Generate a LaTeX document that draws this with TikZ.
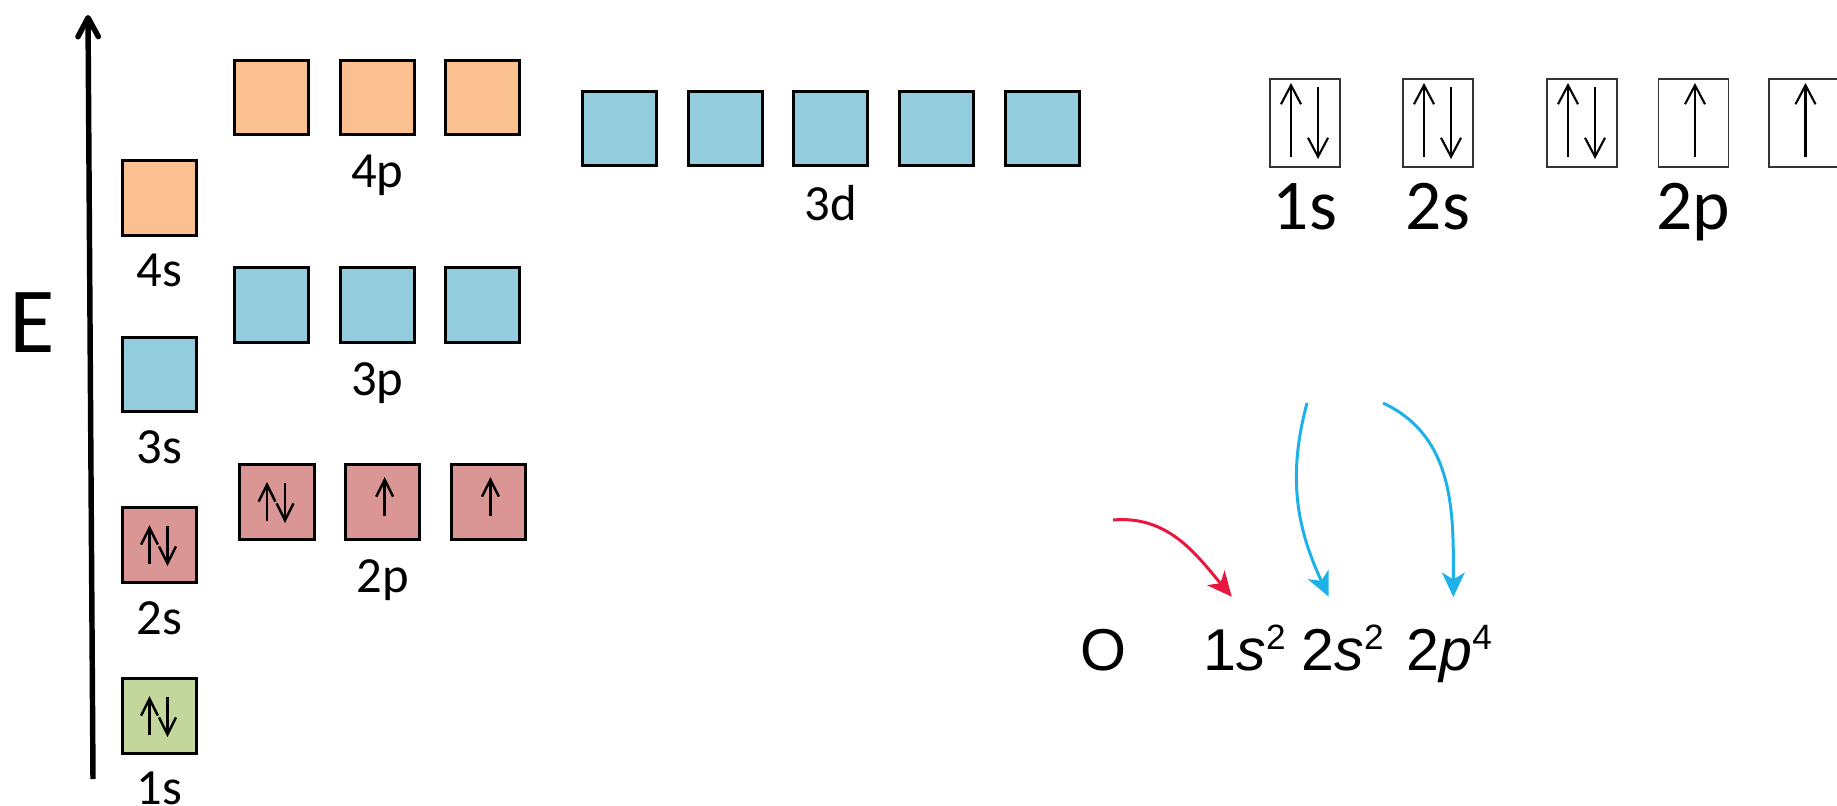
\documentclass[tikz,border=0pt]{standalone}
\usepackage{fontspec}
\setmainfont{Carlito}
\newfontfamily\arialfont{Liberation Sans}
\usepackage{xcolor}
\usetikzlibrary{positioning,calc,arrows.meta}

\definecolor{orbOrange}{HTML}{FAC090}
\definecolor{orbBlue}{HTML}{93CDDD}
\definecolor{orbRed}{HTML}{D99694}
\definecolor{orbGreen}{HTML}{C3D69B}
\definecolor{arrRed}{HTML}{E8173F}
\definecolor{arrBlue}{HTML}{1EB1E8}

% small raised count in the configuration
\newcommand{\cfgsup}[1]{\raisebox{5.7pt}{\fontsize{10}{10}\selectfont #1}}

\tikzset{
  orb/.style={draw, line width=0.85pt, minimum width=0.74cm, minimum height=0.74cm, inner sep=0pt},
  cellbox/.style={draw=black!80, line width=0.5pt, minimum width=0.70cm, minimum height=0.88cm, inner sep=0pt},
  lbl/.style={inner sep=0pt, font=\fontsize{14.4}{17}\selectfont},
  biglbl/.style={inner sep=0pt, font=\fontsize{20.3}{24}\selectfont},
  cfg/.style={inner sep=0pt, font=\arialfont\fontsize{16.8}{20}\selectfont},
  spin/.style={line width=0.7pt, -{Straight Barb[length=4.8pt,width=4.8pt]}},
  bigspin/.style={line width=0.6pt, -{Straight Barb[length=5.4pt,width=5.7pt]}},
  fillarrow/.style={line width=0.85pt, -{Stealth[length=7pt,width=6.5pt,inset=2pt]}}
}

\begin{document}
\begin{tikzpicture}[x=0.01cm, y=0.01cm]
\clip (0,0) rectangle (1837,805);

% energy axis
\draw[line width=1.55pt, -{Straight Barb[length=5.4pt,width=5.8pt,round]}] (93,26) -- (88,790);
\node[inner sep=0pt, font=\fontsize{26.5}{30}\selectfont] (E) at (32,482) {E};

% s orbitals
\foreach \n/\yy/\col in {1/89/orbGreen, 2/260/orbRed, 3/430.5/orbBlue, 4/607/orbOrange}{
  \node[orb, fill=\col] (s\n) at (159.5,\yy) {};
  \node[lbl, below=0.17cm of s\n] (ls\n) {\n s};
}

% p orbitals
\foreach \n/\xx/\yy/\col in {2/277/303/orbRed, 3/271.5/500/orbBlue, 4/271.5/707.5/orbOrange}{
  \foreach \k in {1,2,3}{
    \node[orb, fill=\col] (p\n\k) at ({\xx+(\k-1)*105.7},\yy) {};
  }
  \node[lbl, below=0.18cm of p\n2] (lp\n) {\n p};
}

% 3d orbitals
\foreach \k in {1,...,5}{
  \node[orb, fill=orbBlue] (d\k) at ({619.5+(\k-1)*105.7},676.5) {};
}
\node[lbl, below=0.18cm of d3] (ld) {3d};

% electrons on the left
\foreach \b in {s1,s2,p21}{
  \draw[spin] ($(\b)+(-10,-19)$) -- ++(0,39);
  \draw[spin] ($(\b)+(8,19)$) -- ++(0,-40);
}
\foreach \b in {p22,p23}{
  \draw[spin] ($(\b)+(2,-14)$) -- ++(0,39);
}

% box diagram on the right
\foreach \k/\xx in {1/1305, 2/1438, 3/1582, 4/1693.5, 5/1804}{
  \node[cellbox] (r\k) at (\xx,682) {};
}
\foreach \b in {r1,r2,r3}{
  \draw[bigspin] ($(\b)+(-14,-34)$) -- ++(0,74);
  \draw[bigspin] ($(\b)+(13,36)$) -- ++(0,-72);
}
\foreach \b in {r4,r5}{
  \draw[bigspin] ($(\b)+(1.5,-34)$) -- ++(0,74);
}
\node[biglbl, below=0.15cm of r1] (lr1) {1s};
\node[biglbl, below=0.15cm of r2] (lr2) {2s};
\node[biglbl, below=0.15cm of r4] (lr4) {2p};

% configuration
\node[cfg, anchor=base] (O) at (1103,135) {O};
\node[cfg, anchor=base west] (cfa) at (1203,135) {1\textit{s}\cfgsup{2}};
\node[cfg, anchor=base west] (cfb) at (1301,135) {2\textit{s}\cfgsup{2}};
\node[cfg, anchor=base west] (cfc) at (1406,135) {2\textit{p}\cfgsup{4}};

\coordinate (redstart) at (1113,285);
\coordinate (bluestarta) at (1307,402);
\coordinate (bluestartb) at (1383,402);
\draw[fillarrow, arrRed] (redstart) to[out=5, in=130] ($(cfa.north)+(-13,28)$);
\draw[fillarrow, arrBlue] (bluestarta) to[out=-105, in=115] ($(cfb.north)+(-14,28)$);
\draw[fillarrow, arrBlue] (bluestartb) to[out=-25, in=90] ($(cfc.north)+(4,28)$);

\end{tikzpicture}
\end{document}
